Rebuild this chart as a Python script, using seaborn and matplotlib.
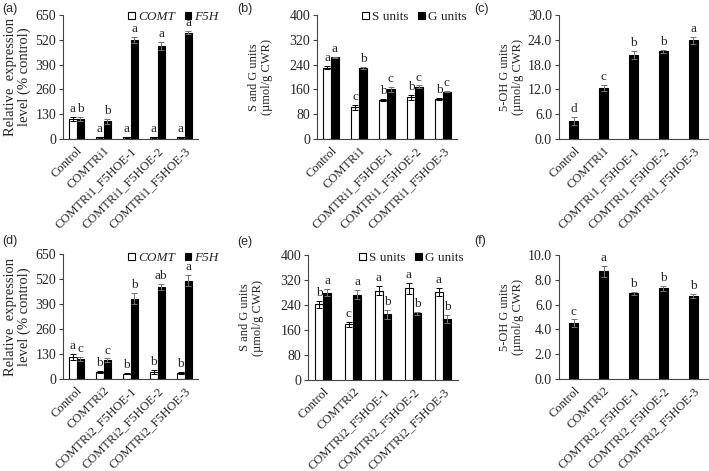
import numpy as np
import pandas as pd
import seaborn as sns
import matplotlib.pyplot as plt
from matplotlib.patches import Patch

# ---- data ----
lines1 = ['Control', 'COMTRi1', 'COMTRi1_F5HOE-1', 'COMTRi1_F5HOE-2', 'COMTRi1_F5HOE-3']
lines2 = ['Control', 'COMTRi2', 'COMTRi2_F5HOE-1', 'COMTRi2_F5HOE-2', 'COMTRi2_F5HOE-3']

# (a) relative expression, COMTRi1 set
a_comt = [105, 8, 10, 8, 10]
a_comt_err = [12, 3, 3, 3, 3]
a_comt_sig = ['a', 'a', 'a', 'a', 'a']
a_f5h = [105, 92, 520, 487, 557]
a_f5h_err = [10, 12, 15, 20, 8]
a_f5h_sig = ['b', 'b', 'a', 'a', 'a']

# (b) S and G units, COMTRi1 set
b_s = [230, 102, 127, 135, 130]
b_s_err = [5, 8, 3, 8, 3]
b_s_sig = ['a', 'c', 'b', 'b', 'b']
b_g = [263, 230, 160, 168, 153]
b_g_err = [3, 3, 7, 5, 3]
b_g_sig = ['a', 'b', 'c', 'c', 'c']

# (c) 5-OH G units, COMTRi1 set
c_oh = [4.4, 12.3, 20.3, 21.2, 23.9]
c_oh_err = [0.9, 0.8, 1.0, 0.4, 0.8]
c_oh_sig = ['d', 'c', 'b', 'b', 'a']

# (d) relative expression, COMTRi2 set
d_comt = [115, 35, 28, 35, 32]
d_comt_err = [15, 6, 4, 10, 6]
d_comt_sig = ['a', 'b', 'b', 'b', 'b']
d_f5h = [105, 97, 418, 478, 512]
d_f5h_err = [10, 10, 30, 15, 30]
d_f5h_sig = ['c', 'c', 'b', 'ab', 'a']

# (e) S and G units, COMTRi2 set
e_s = [242, 178, 286, 294, 282]
e_s_err = [10, 8, 14, 18, 14]
e_s_sig = ['b', 'c', 'a', 'a', 'a']
e_g = [280, 273, 210, 213, 195]
e_g_err = [12, 15, 15, 5, 12]
e_g_sig = ['a', 'a', 'b', 'b', 'b']

# (f) 5-OH G units, COMTRi2 set
f_oh = [4.5, 8.7, 6.9, 7.3, 6.7]
f_oh_err = [0.3, 0.45, 0.15, 0.2, 0.15]
f_oh_sig = ['c', 'a', 'b', 'b', 'b']

sns.set_style('white')
plt.rcParams['font.family'] = ['Liberation Serif', 'DejaVu Serif']

SPINE = '#444444'


def style_axis(ax, cats, ymax, step, fmt, ylabel, ylsize, lpad=3):
    ax.set_ylim(0, ymax)
    ax.set_xlim(-0.5, len(cats) - 0.5)
    yt = np.arange(0, ymax + step / 2, step)
    ax.set_yticks(yt)
    ax.set_yticklabels([fmt.format(v) for v in yt], fontsize=10)
    ax.set_xticks(range(len(cats)))
    ax.set_xticklabels(cats, rotation=45, ha='right', rotation_mode='anchor', fontsize=9)
    ax.set_xticks(np.arange(0.5, len(cats), 1), minor=True)
    ax.tick_params(axis='x', which='major', length=0, pad=4)
    ax.tick_params(axis='x', which='minor', length=3, direction='out', color=SPINE, width=0.8)
    ax.tick_params(axis='y', length=3, direction='out', color=SPINE, width=0.8, pad=2, left=True)
    for s in ['top', 'right']:
        ax.spines[s].set_visible(False)
    for s in ['left', 'bottom']:
        ax.spines[s].set_color(SPINE)
        ax.spines[s].set_linewidth(0.8)
    ax.set_xlabel('')
    ax.set_ylabel(ylabel, fontsize=ylsize, labelpad=lpad, linespacing=1.1)


def grouped(ax, cats, names, vals, errs, sigs, ymax):
    df = pd.DataFrame({
        'line': cats * 2,
        'series': [names[0]] * len(cats) + [names[1]] * len(cats),
        'value': vals[0] + vals[1],
    })
    sns.barplot(data=df, x='line', y='value', hue='series', palette=['white', 'black'],
                edgecolor='black', linewidth=0.8, width=0.55, errorbar=None,
                legend=False, ax=ax)
    bars = list(ax.containers)[:2]
    for k, cont in enumerate(bars):
        xs = [p.get_x() + p.get_width() / 2 for p in cont]
        ax.errorbar(xs, vals[k], yerr=errs[k], fmt='none',
                    ecolor='black' if k == 0 else '0.45', elinewidth=0.7,
                    capsize=2, capthick=0.7)
        for x, v, e, s in zip(xs, vals[k], errs[k], sigs[k]):
            ax.text(x, v + e + ymax * 0.015, s, ha='center', va='bottom', fontsize=9.5)


def single(ax, cats, vals, errs, sigs, ymax):
    df = pd.DataFrame({'line': cats, 'value': vals})
    sns.barplot(data=df, x='line', y='value', color='black', edgecolor='black',
                linewidth=0.8, width=0.3, errorbar=None, ax=ax)
    ax.errorbar(range(len(cats)), vals, yerr=errs, fmt='none', ecolor='0.45',
                elinewidth=0.7, capsize=2, capthick=0.7)
    for x, v, e, s in zip(range(len(cats)), vals, errs, sigs):
        ax.text(x, v + e + ymax * 0.015, s, ha='center', va='bottom', fontsize=9.5)


def legend(fig, x, y, names, italic):
    handles = [Patch(facecolor='white', edgecolor='black', linewidth=0.8),
               Patch(facecolor='black', edgecolor='black', linewidth=0.8)]
    leg = fig.legend(handles, names, loc='center left', bbox_to_anchor=(x, y), ncol=2,
                     frameon=False, handlelength=0.5, handleheight=0.5,
                     handletextpad=0.25, columnspacing=0.75, borderpad=0,
                     borderaxespad=0,
                     prop={'size': 9.5, 'style': 'italic' if italic else 'normal'})
    return leg


W, H = 709, 471
fig = plt.figure(figsize=(W / 100, H / 100), dpi=100)


def add_ax(l, r, t, b):
    return fig.add_axes([l / W, 1 - b / H, (r - l) / W, (b - t) / H])


ax_a = add_ax(63, 198, 15, 139)
ax_b = add_ax(317, 457, 15, 139)
ax_c = add_ax(559, 708, 15, 139)
ax_d = add_ax(63, 198, 254, 379)
ax_e = add_ax(308, 458, 255, 380)
ax_f = add_ax(559, 708, 255, 379)

grouped(ax_a, lines1, ['COMT', 'F5H'], [a_comt, a_f5h], [a_comt_err, a_f5h_err],
        [a_comt_sig, a_f5h_sig], 650)
style_axis(ax_a, lines1, 650, 130, '{:.0f}', 'Relative  expression\nlevel (% control)', 10.5)

grouped(ax_b, lines1, ['S units', 'G units'], [b_s, b_g], [b_s_err, b_g_err],
        [b_s_sig, b_g_sig], 400)
style_axis(ax_b, lines1, 400, 80, '{:.0f}', 'S and G units\n(µmol/g CWR)', 9, lpad=12)

single(ax_c, lines1, c_oh, c_oh_err, c_oh_sig, 30)
style_axis(ax_c, lines1, 30, 6, '{:.1f}', '5-OH G units\n(µmol/g CWR)', 9)

grouped(ax_d, lines2, ['COMT', 'F5H'], [d_comt, d_f5h], [d_comt_err, d_f5h_err],
        [d_comt_sig, d_f5h_sig], 650)
style_axis(ax_d, lines2, 650, 130, '{:.0f}', 'Relative  expression\nlevel (% control)', 10.5)

grouped(ax_e, lines2, ['S units', 'G units'], [e_s, e_g], [e_s_err, e_g_err],
        [e_s_sig, e_g_sig], 400)
style_axis(ax_e, lines2, 400, 80, '{:.0f}', 'S and G units\n(µmol/g CWR)', 9, lpad=12)

single(ax_f, lines2, f_oh, f_oh_err, f_oh_sig, 10)
style_axis(ax_f, lines2, 10, 2, '{:.1f}', '5-OH G units\n(µmol/g CWR)', 9)

legend(fig, 128 / W, 1 - 17 / H, ['COMT', 'F5H'], True)
legend(fig, 362 / W, 1 - 17 / H, ['S units', 'G units'], False)
legend(fig, 128 / W, 1 - 258 / H, ['COMT', 'F5H'], True)
legend(fig, 359 / W, 1 - 258 / H, ['S units', 'G units'], False)

for lab, x, y in [('(a)', 2, 9), ('(b)', 237, 9), ('(c)', 474, 9),
                  ('(d)', 2, 241), ('(e)', 237, 242), ('(f)', 474, 241)]:
    fig.text(x / W, 1 - y / H, lab, ha='left', va='center', fontsize=9,
             family=['Liberation Sans', 'DejaVu Sans'])

fig.savefig('out.png', dpi=100)
